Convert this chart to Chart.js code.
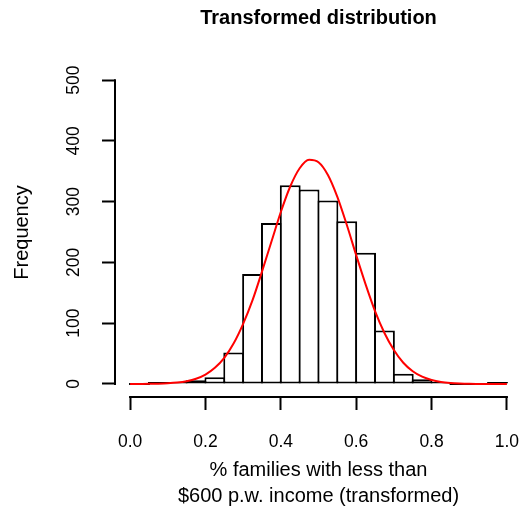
<!DOCTYPE html>
<html>
<head>
<meta charset="utf-8">
<script src="https://cdn.jsdelivr.net/npm/chart.js@4"></script>
<style>
    body { margin: 0; background: #fff; }
    #wrap { width: 525px; height: 511px; }
</style>
</head>
<body>
<div id="wrap"><canvas id="hist-chart"></canvas></div>
<script>
    // histogram bins (mid points) and counts
    const binMids = [0.025, 0.075, 0.125, 0.175, 0.225, 0.275, 0.325, 0.375, 0.425, 0.475,
                     0.525, 0.575, 0.625, 0.675, 0.725, 0.775, 0.825, 0.875, 0.925, 0.975];
    const counts = [0, 2, 2, 6, 11, 52, 181, 265, 327, 320,
                    302, 268, 216, 88, 17, 8, 2, 0, 0, 1];

    // red density curve
    const curveX = [0, 0.025, 0.05, 0.075, 0.1, 0.125, 0.15, 0.175, 0.2, 0.225,
                    0.25, 0.275, 0.3, 0.325, 0.35, 0.375, 0.4, 0.425, 0.45, 0.475,
                    0.5, 0.525, 0.55, 0.575, 0.6, 0.625, 0.65, 0.675, 0.7, 0.725,
                    0.75, 0.775, 0.8, 0.825, 0.85, 0.875, 0.9, 0.925, 0.95, 0.975, 1.0];
    const curveY = [0, 0.1, 0.2, 0.5, 1.1, 2.3, 4.6, 8.6, 15.5, 26.6,
                    43, 67, 99, 138, 185, 234, 283, 325, 355, 369,
                    365, 344, 308, 262, 212, 164, 120, 84, 56, 35,
                    21, 12, 6.6, 3.4, 1.7, 0.8, 0.3, 0.15, 0.06, 0.02, 0];

    const xTicks = [0, 0.2, 0.4, 0.6, 0.8, 1.0];
    const yTicks = [0, 100, 200, 300, 400, 500];

    const FONT = "'Liberation Sans', Arial, Helvetica, sans-serif";

    // R style axis lines that only span the tick range
    const rAxes = {
        id: 'rAxes',
        afterDraw(chart) {
            const c = chart.ctx;
            const xs = chart.scales.x, ys = chart.scales.y;
            const area = chart.chartArea;
            c.save();
            c.strokeStyle = '#000';
            c.lineWidth = 2;
            c.beginPath();
            c.moveTo(area.left, ys.getPixelForValue(yTicks[0]) + 1);
            c.lineTo(area.left, ys.getPixelForValue(yTicks[yTicks.length - 1]) - 1);
            c.moveTo(xs.getPixelForValue(xTicks[0]) - 1, area.bottom);
            c.lineTo(xs.getPixelForValue(xTicks[xTicks.length - 1]) + 1, area.bottom);
            c.stroke();
            c.restore();
        }
    };

    const ctx = document.getElementById('hist-chart').getContext('2d');
    const chart = new Chart(ctx, {
        type: 'bar',
        data: {
            datasets: [{
                type: 'line',
                data: curveX.map((x, i) => ({ x: x, y: curveY[i] })),
                borderColor: '#ff0000',
                borderWidth: 2,
                pointRadius: 0,
                cubicInterpolationMode: 'monotone',
                order: 0
            }, {
                type: 'bar',
                data: binMids.map((x, i) => ({ x: x, y: counts[i] })),
                backgroundColor: '#ffffff',
                borderColor: '#000000',
                borderWidth: 2,
                borderSkipped: false,
                minBarLength: 2,
                categoryPercentage: 1,
                barPercentage: 1.106,
                order: 1
            }]
        },
        options: {
            responsive: true,
            maintainAspectRatio: false,
            animation: false,
            layout: { padding: { left: 0, right: 3, top: 0, bottom: 0 } },
            plugins: {
                legend: { display: false },
                tooltip: { enabled: false },
                title: {
                    display: true,
                    fullSize: false,
                    text: 'Transformed distribution',
                    color: '#000',
                    font: { family: FONT, size: 20, weight: 'bold', lineHeight: 1.2 },
                    padding: { top: 6, bottom: 38 }
                }
            },
            scales: {
                x: {
                    type: 'linear',
                    min: -0.04,
                    max: 1.04,
                    offset: false,
                    afterBuildTicks: s => { s.ticks = xTicks.map(v => ({ value: v })); },
                    afterFit: s => {
                        s.height = 114;
                        s.paddingLeft = 0;
                        s.paddingRight = 0;
                    },
                    border: { display: false },
                    grid: {
                        offset: false,
                        drawOnChartArea: false,
                        drawTicks: true,
                        tickLength: 13,
                        tickWidth: 2,
                        tickColor: '#000'
                    },
                    ticks: {
                        autoSkip: false,
                        maxRotation: 0,
                        padding: 22,
                        color: '#000',
                        font: { family: FONT, size: 17.5 },
                        callback: v => v.toFixed(1)
                    },
                    title: {
                        display: true,
                        text: ['% families with less than', '$600 p.w. income (transformed)'],
                        color: '#000',
                        font: { family: FONT, size: 20, lineHeight: 1.3 },
                        padding: { top: 0, bottom: 2 }
                    }
                },
                y: {
                    type: 'linear',
                    min: -21.4,
                    max: 520,
                    afterBuildTicks: s => { s.ticks = yTicks.map(v => ({ value: v })); },
                    afterFit: s => {
                        s.width = 115;
                        s.paddingTop = 0;
                        s.paddingBottom = 0;
                    },
                    border: { display: false },
                    grid: {
                        drawOnChartArea: false,
                        drawTicks: true,
                        tickLength: 13,
                        tickWidth: 2,
                        tickColor: '#000'
                    },
                    ticks: {
                        autoSkip: false,
                        minRotation: 90,
                        maxRotation: 90,
                        crossAlign: 'center',
                        padding: 13,
                        color: '#000',
                        font: { family: FONT, size: 17.5 },
                        callback: v => String(v)
                    },
                    title: {
                        display: true,
                        text: 'Frequency',
                        color: '#000',
                        font: { family: FONT, size: 20, lineHeight: 1.2 },
                        padding: { top: 10, bottom: 0 }
                    }
                }
            }
        },
        plugins: [rAxes]
    });
</script>
</body>
</html>
